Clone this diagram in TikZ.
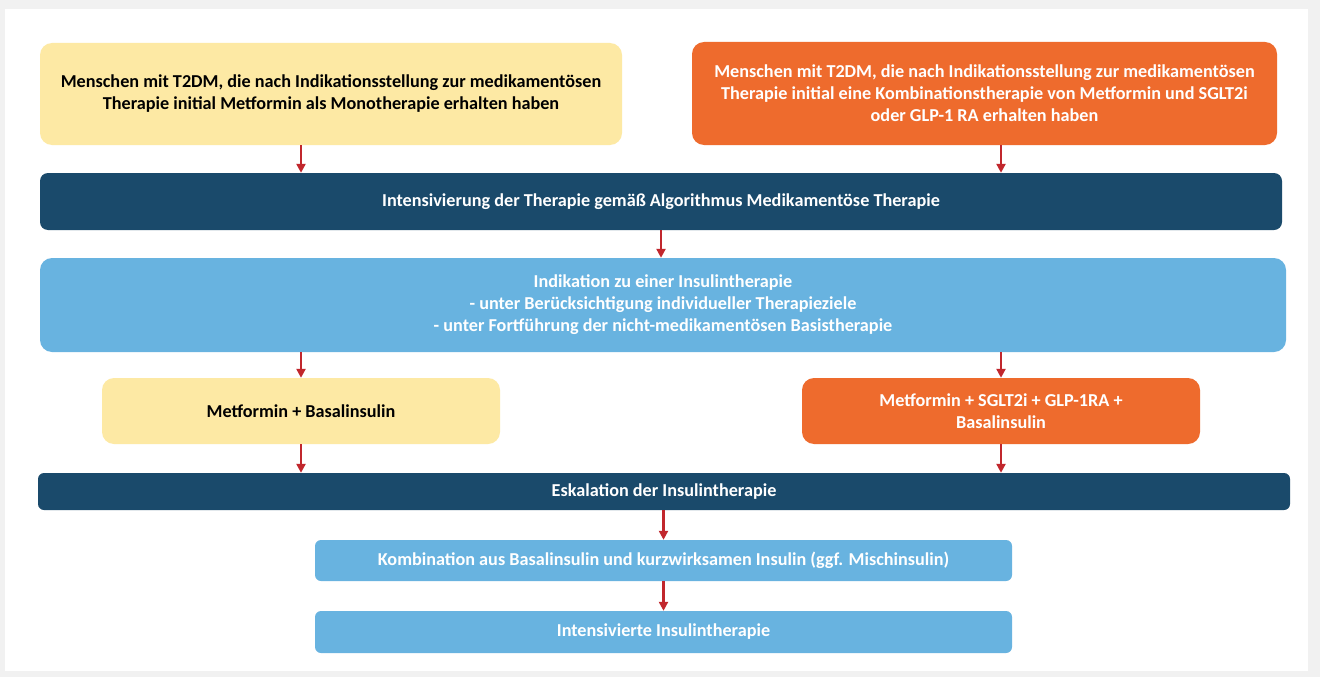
\documentclass[tikz,border=0pt]{standalone}
\usepackage{fontspec}
\setmainfont{Carlito}
\usetikzlibrary{arrows.meta}
\definecolor{paleyellow}{HTML}{FDE9A4}
\definecolor{deeporange}{HTML}{EE6B2D}
\definecolor{navy}{HTML}{1A4A6B}
\definecolor{skyblue}{HTML}{68B3E0}
\definecolor{arrowred}{HTML}{C1272D}
\definecolor{framegray}{HTML}{F1F1F1}
\tikzset{
	box/.style={rectangle, rounded corners=12pt, align=center, inner sep=0pt,
		font=\bfseries\fontsize{18.2}{22}\selectfont},
	yellowbox/.style={box, fill=paleyellow, text=black},
	orangebox/.style={box, fill=deeporange, text=white},
	navybar/.style={box, rounded corners=8pt, fill=navy, text=white},
	bluebox/.style={box, fill=skyblue, text=white},
	flow/.style={->, >={Triangle[width=9pt,length=9pt]}, line width=2.4pt, draw=arrowred},
}
\begin{document}
\begin{tikzpicture}[x=1pt, y=-1pt]
	% Frame
	\useasboundingbox (0,0) rectangle (1320,677);
	\fill[framegray] (0,0) rectangle (1320,677);
	\fill[white] (5,9) rectangle (1308,671);
	% Nodes
	\node[yellowbox, minimum width=582pt, minimum height=102pt] (mono) at (331,94)
		{Menschen mit T2DM, die nach Indikationsstellung zur medikamentösen\\Therapie initial Metformin als Monotherapie erhalten haben};
	\node[orangebox, minimum width=585pt, minimum height=103pt] (combi) at (984.5,93.5)
		{Menschen mit T2DM, die nach Indikationsstellung zur medikamentösen\\Therapie initial eine Kombinationstherapie von Metformin und SGLT2i\\oder GLP-1 RA erhalten haben};
	\node[navybar, minimum width=1242pt, minimum height=57pt] (intens) at (661,201.5)
		{Intensivierung der Therapie gemäß Algorithmus Medikamentöse Therapie};
	\node[bluebox, minimum width=1246pt, minimum height=94pt] (indik) at (663,305)
		{Indikation zu einer Insulintherapie\\- unter Berücksichtigung individueller Therapieziele\\- unter Fortführung der nicht-medikamentösen Basistherapie};
	\node[yellowbox, minimum width=398pt, minimum height=66pt] (metbasal) at (301,411)
		{Metformin + Basalinsulin};
	\node[orangebox, minimum width=398pt, minimum height=66pt] (quad) at (1001,411)
		{Metformin + SGLT2i + GLP-1RA +\\Basalinsulin};
	\node[navybar, rounded corners=6pt, minimum width=1252pt, minimum height=37pt] (eskal) at (664,491.5)
		{Eskalation der Insulintherapie};
	\node[bluebox, rounded corners=6pt, minimum width=697pt, minimum height=41pt] (kombi) at (663.5,560.5)
		{Kombination aus Basalinsulin und kurzwirksamen Insulin (ggf. Mischinsulin)};
	\node[bluebox, rounded corners=6pt, minimum width=697pt, minimum height=42pt] (ict) at (663.5,632)
		{Intensivierte Insulintherapie};
	% Arrows
	\draw[flow] (metbasal |- mono.south) -- (metbasal |- intens.north);
	\draw[flow] (quad |- combi.south) -- (quad |- intens.north);
	\draw[flow] (intens.south) -- (intens.south |- indik.north);
	\draw[flow] (metbasal |- indik.south) -- (metbasal.north);
	\draw[flow] (quad |- indik.south) -- (quad.north);
	\draw[flow] (metbasal.south) -- (metbasal |- eskal.north);
	\draw[flow] (quad.south) -- (quad |- eskal.north);
	\draw[flow] (kombi |- eskal.south) -- (kombi.north);
	\draw[flow] (kombi.south) -- (ict.north);
\end{tikzpicture}
\end{document}
